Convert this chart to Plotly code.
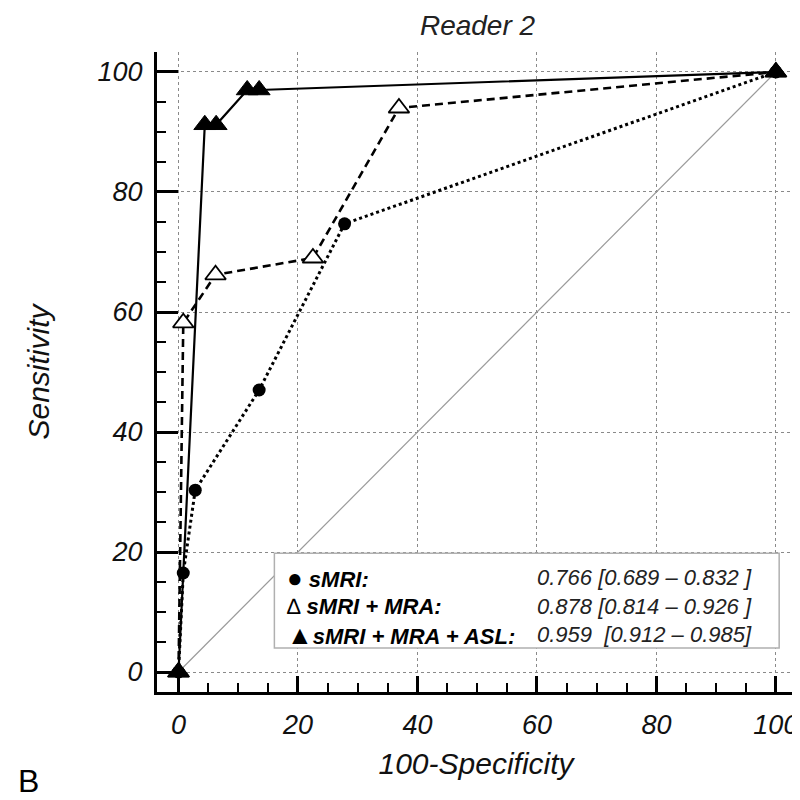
import plotly.graph_objects as go

# ---- data ----
smri_x = [0, 0.8, 2.8, 13.5, 27.8, 100]
smri_y = [0, 16.5, 30.3, 47.0, 74.7, 100]

mra_x = [0, 0.8, 6.2, 22.5, 36.9, 100]
mra_y = [0, 58.2, 66.2, 69.0, 94.0, 100]

asl_x = [0, 4.4, 6.3, 11.5, 13.5, 100]
asl_y = [0, 91.2, 91.2, 97.0, 97.0, 100]

diag = [0, 100]

tick_vals = [0, 20, 40, 60, 80, 100]

legend_labels = ["<span style='font-size:26px'>\u25CF</span> <b><i>sMRI:</i></b>",
                 "\u2206 <b><i>sMRI + MRA:</i></b>",
                 "<span style='font-size:26px'>\u25B2</span><b><i>sMRI + MRA + ASL:</i></b>"]
legend_values = ["<i>0.766 [0.689 \u2013 0.832 ]</i>",
                 "<i>0.878 [0.814 \u2013 0.926 ]</i>",
                 "<i>0.959  [0.912 \u2013 0.985]</i>"]

FONT = "Liberation Sans, Arial, sans-serif"

fig = go.Figure()

fig.add_trace(go.Scatter(x=diag, y=diag, mode="lines",
                         line=dict(color="#9a9a9a", width=1.2), hoverinfo="skip"))

fig.add_trace(go.Scatter(x=mra_x, y=mra_y, mode="lines+markers",
                         line=dict(color="black", width=2.6, dash="8px,5px"),
                         marker=dict(symbol="triangle-up", size=18, color="white",
                                     line=dict(color="black", width=1.8))))

fig.add_trace(go.Scatter(x=smri_x, y=smri_y, mode="lines+markers",
                         line=dict(color="black", width=3, dash="dot"),
                         marker=dict(symbol="circle", size=13, color="black")))

fig.add_trace(go.Scatter(x=asl_x, y=asl_y, mode="lines+markers",
                         line=dict(color="black", width=2.2),
                         marker=dict(symbol="triangle-up", size=19, color="black",
                                     line=dict(color="black", width=1))))

axis_common = dict(
    showgrid=True, gridcolor="#8a8a8a", gridwidth=1, griddash="dot",
    zeroline=False, showline=True, linecolor="black", linewidth=3,
    ticks="inside", tickcolor="black", tickwidth=3,
    tickvals=tick_vals,
    tickfont=dict(family=FONT, size=27, color="#111", style="italic"),
    minor=dict(dtick=5, ticks="inside", ticklen=9, tickwidth=2, tickcolor="black", showgrid=False),
)

fig.update_layout(
    width=800, height=800,
    margin=dict(l=149, r=10, t=44, b=116),
    paper_bgcolor="white", plot_bgcolor="white",
    showlegend=False,
    title=dict(text="<i>Reader 2</i>", x=(149 + 790) / 2 / 800, xanchor="center",
               y=1 - 17 / 800, yanchor="middle",
               font=dict(family=FONT, size=28, color="#222")),
    xaxis=dict(range=[-3.6, 103.2], ticklen=16, ticklabelstandoff=7,
               title=dict(text="<i>100-Specificity</i>", standoff=14,
                          font=dict(family=FONT, size=30, color="#111")),
               **axis_common),
    yaxis=dict(range=[-3.33, 103.33], ticklen=21, ticklabelstandoff=6,
               title=dict(text="<i>Sensitivity</i>", standoff=40,
                          font=dict(family=FONT, size=30, color="#111")),
               **axis_common),
)

# legend box
fig.add_shape(type="rect", xref="x", yref="y", x0=16.05, x1=100.55, y0=4.0, y1=19.8,
              line=dict(color="#b0b0b0", width=1.5), fillcolor="white", layer="above")

rows_y = [15.7, 11.0, 6.2]
for lab, val, yy in zip(legend_labels, legend_values, rows_y):
    fig.add_annotation(x=17.9, y=yy, xref="x", yref="y", text=lab, showarrow=False,
                       xanchor="left", yanchor="middle",
                       font=dict(family=FONT, size=22, color="black"))
    fig.add_annotation(x=59.7, y=yy, xref="x", yref="y", text=val, showarrow=False,
                       xanchor="left", yanchor="middle",
                       font=dict(family=FONT, size=22, color="#222"))

fig.add_annotation(x=(8 - 149) / 641, y=(684 - 792) / 640, xref="paper", yref="paper",
                   text="B", showarrow=False, xanchor="left", yanchor="bottom",
                   borderpad=0,
                   font=dict(family=FONT, size=32, color="black"))

fig.write_html("out.html")
